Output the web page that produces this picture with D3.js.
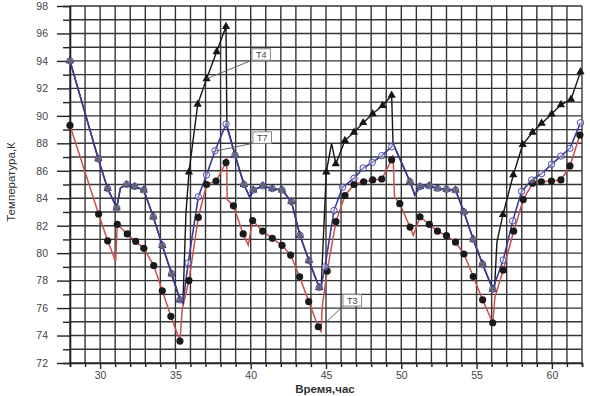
<!DOCTYPE html>
<html><head><meta charset="utf-8">
<script src="https://cdn.jsdelivr.net/npm/d3@7"></script>
<style>html,body{margin:0;padding:0;background:#fff;}svg{display:block;}</style>
</head><body><div id="chart"></div>
<script>
// [time (h), temperature (K), marker flag]
const t3Data = [[28,89.3,1],[29.9,82.85,1],[30.5,80.9,1],[31.03,79.4,0],[31.14,82.1,1],[31.8,81.4,1],[32.36,80.86,1],[32.9,80.35,1],[33.56,79.1,1],[34.13,77.26,1],[34.7,75.4,1],[35.3,73.6,1],[35.45,75.9,0],[35.9,78.0,1],[36.52,82.6,1],[37.07,85.0,1],[37.7,85.25,1],[38.36,86.6,1],[38.4,87.0,0],[38.44,83.9,0],[38.85,83.45,1],[39.5,81.4,1],[39.84,80.6,0],[40.13,82.37,1],[40.8,81.6,1],[41.43,81.08,1],[42.08,80.57,1],[42.65,79.86,1],[43.25,78.28,1],[43.85,76.47,1],[44.49,74.64,1],[44.67,74.3,0],[44.75,76.1,0],[45.08,78.7,1],[45.66,82.3,1],[46.26,84.2,1],[46.86,85.0,1],[47.5,85.2,1],[48.1,85.33,1],[48.7,85.4,1],[49.36,86.8,1],[49.45,87.15,0],[49.55,84.1,0],[49.9,83.6,1],[50.58,81.9,1],[50.8,81.3,0],[51.24,82.65,1],[51.86,82.1,1],[52.4,81.6,1],[53.0,81.27,1],[53.6,80.8,1],[54.16,79.94,1],[54.78,78.3,1],[55.4,76.6,1],[56.07,74.93,1],[56.22,76.8,0],[56.77,78.77,1],[57.46,81.6,1],[58.1,83.9,1],[58.72,85.1,1],[59.3,85.2,1],[59.97,85.25,1],[60.6,85.33,1],[61.2,86.35,1],[61.86,88.6,1]];

const t4Data = [[28,94,1],[29.88,86.86,1],[30.5,84.7,1],[31.1,83.3,1],[31.35,84.75,0],[31.76,85.0,1],[32.3,84.85,1],[32.9,84.6,1],[33.53,82.65,1],[34.13,80.55,1],[34.75,78.5,1],[35.3,76.6,1],[35.5,76.35,0],[35.7,82.9,0],[35.9,85.9,1],[36.48,90.84,1],[37.07,92.7,1],[37.74,94.67,1],[38.36,96.5,1],[38.42,89.3,0],[38.96,87.15,1],[39.55,85.0,1],[39.95,84.05,0],[40.17,84.6,1],[40.8,84.9,1],[41.43,84.7,1],[42.08,84.6,1],[42.7,83.75,1],[43.27,81.3,1],[43.87,79.45,1],[44.55,77.5,1],[44.68,77.5,0],[45.02,85.9,1],[45.37,88.0,0],[45.65,86.5,1],[46.26,88.2,1],[46.86,88.8,1],[47.47,89.5,1],[48.1,90.15,1],[48.76,90.75,1],[49.36,91.5,1],[49.45,88.0,0],[50.58,85.2,1],[50.9,84.23,0],[51.24,84.84,1],[51.86,84.9,1],[52.4,84.72,1],[53.0,84.65,1],[53.6,84.6,1],[54.16,83.0,1],[54.78,81.0,1],[55.4,79.2,1],[56.07,77.37,1],[56.2,77.6,0],[56.35,80.8,0],[56.75,82.8,1],[57.44,85.7,1],[58.06,87.9,1],[58.72,88.8,1],[59.32,89.45,1],[59.98,90.13,1],[60.6,90.8,1],[61.27,91.2,1],[61.9,93.2,1]];

const t7Data = [[28,94,1],[29.88,86.86,1],[30.5,84.7,1],[31.1,83.3,1],[31.35,84.75,0],[31.76,85.0,1],[32.3,84.85,1],[32.9,84.6,1],[33.53,82.65,1],[34.13,80.55,1],[34.75,78.5,1],[35.3,76.6,1],[35.5,76.35,0],[35.85,79.3,1],[36.52,84.1,1],[37.07,85.7,1],[37.63,87.46,1],[38.36,89.4,1],[38.96,87.15,1],[39.55,85.0,1],[39.95,84.05,0],[40.17,84.6,1],[40.8,84.9,1],[41.43,84.7,1],[42.08,84.6,1],[42.7,83.75,1],[43.27,81.3,1],[43.87,79.45,1],[44.55,77.5,1],[44.65,77.4,0],[44.93,79.0,1],[45.53,83.1,1],[46.1,84.8,1],[46.86,85.45,1],[47.47,86.2,1],[48.07,86.6,1],[48.7,87.1,1],[49.36,87.75,1],[49.45,88.0,0],[50.58,85.2,1],[50.9,84.23,0],[51.24,84.84,1],[51.86,84.9,1],[52.4,84.72,1],[53.0,84.65,1],[53.6,84.6,1],[54.16,83.0,1],[54.78,81.0,1],[55.4,79.2,1],[56.07,77.37,1],[56.77,79.5,1],[57.4,82.35,1],[57.99,84.5,1],[58.66,85.33,1],[59.32,85.8,1],[59.98,86.47,1],[60.6,87.07,1],[61.2,87.64,1],[61.9,89.5,1]];

const xTickLabels = [30, 35, 40, 45, 50, 55, 60];
const yTickLabels = [72, 74, 76, 78, 80, 82, 84, 86, 88, 90, 92, 94, 96, 98];
// label, anchor point (t, K), box bottom-left corner (t, K)
const labelNames = ["T4", "T7", "T3"];
const labelAnchors = [[37.07, 92.7], [37.5, 87.4], [45.04, 75.0]];
const labelBoxes = [[40.08, 94.05], [40.15, 88.0], [46.13, 76.15]];

const W = 590, H = 396;
const svg = d3.select("#chart").append("svg").attr("width", W).attr("height", H);
const x = d3.scaleLinear().domain([28, 62]).range([70, 582]);
const y = d3.scaleLinear().domain([72, 98]).range([363, 6]);
const FONT = "Liberation Sans, Arial, sans-serif";

const gridColor = "#353535";
const g = svg.append("g");
g.selectAll(".vg").data(d3.range(28, 63, 1)).enter().append("line")
  .attr("x1", d => x(d)).attr("x2", d => x(d)).attr("y1", y(98)).attr("y2", y(72))
  .attr("stroke", gridColor).attr("stroke-width", 1.4);
g.selectAll(".hg").data(d3.range(72, 99, 1)).enter().append("line")
  .attr("x1", x(28)).attr("x2", x(62)).attr("y1", d => y(d)).attr("y2", d => y(d))
  .attr("stroke", gridColor).attr("stroke-width", 1.4);

const xAxis = d3.axisBottom(x).tickValues(d3.range(28, 63, 1)).tickSize(4)
  .tickFormat(d => xTickLabels.includes(d) ? d : "");
const xg = svg.append("g").attr("transform", `translate(0,${y(72)})`).call(xAxis);
xg.select(".domain").attr("stroke", "#222").attr("stroke-width", 1.6);
xg.selectAll(".tick line").attr("stroke", "#222").attr("stroke-width", 1.4)
  .attr("y2", d => xTickLabels.includes(d) ? 6 : 4);
xg.selectAll(".tick text").attr("fill", "#444").attr("font-size", "10.5px")
  .attr("font-family", FONT).attr("dy", "0").attr("y", 16);

const yAxis = d3.axisLeft(y).tickValues(d3.range(72, 99, 1)).tickSize(7)
  .tickFormat(d => yTickLabels.includes(d) ? d : "");
const yg = svg.append("g").attr("transform", `translate(${x(28)},0)`).call(yAxis);
yg.select(".domain").attr("stroke", "#222").attr("stroke-width", 1.6);
yg.selectAll(".tick line").attr("stroke", "#222").attr("stroke-width", 1.4)
  .attr("x2", d => yTickLabels.includes(d) ? -13 : -7);
yg.selectAll(".tick text").attr("fill", "#444").attr("font-size", "10.5px")
  .attr("font-family", FONT).attr("x", -22);

svg.append("text").attr("x", 325).attr("y", 393).attr("text-anchor", "middle")
  .attr("font-family", FONT).attr("font-size", "11.5px")
  .attr("font-weight", "bold").attr("fill", "#333").text("Время,час");
svg.append("text").attr("transform", "translate(15,182) rotate(-90)").attr("text-anchor", "middle")
  .attr("font-family", FONT).attr("font-size", "11.5px")
  .attr("fill", "#333").text("Температура,К");

const line = d3.line().x(d => x(d[0])).y(d => y(d[1]));

svg.append("path").datum(t3Data).attr("d", line).attr("fill", "none")
  .attr("stroke", "#c9504f").attr("stroke-width", 1.5);
svg.append("path").datum(t4Data).attr("d", line).attr("fill", "none")
  .attr("stroke", "#151515").attr("stroke-width", 1.4);
svg.append("path").datum(t7Data).attr("d", line).attr("fill", "none")
  .attr("stroke", "#3b3b9a").attr("stroke-width", 1.6);

svg.append("g").selectAll("circle").data(t3Data.filter(d => d[2])).enter().append("circle")
  .attr("cx", d => x(d[0])).attr("cy", d => y(d[1])).attr("r", 3.6).attr("fill", "#1a1a1a");
const tri = d3.symbol().type(d3.symbolTriangle).size(30);
svg.append("g").selectAll("path").data(t4Data.filter(d => d[2])).enter().append("path")
  .attr("d", tri).attr("transform", d => `translate(${x(d[0])},${y(d[1])})`).attr("fill", "#151515");
svg.append("g").selectAll("circle").data(t7Data.filter(d => d[2])).enter().append("circle")
  .attr("cx", d => x(d[0])).attr("cy", d => y(d[1])).attr("r", 3.2)
  .attr("fill", "rgba(255,255,255,0.35)").attr("stroke", "#4a4aa8").attr("stroke-width", 1);

// callout labels
labelNames.forEach((name, i) => {
  const bx = x(labelBoxes[i][0]), by = y(labelBoxes[i][1]);
  svg.append("line").attr("x1", x(labelAnchors[i][0])).attr("y1", y(labelAnchors[i][1]))
    .attr("x2", bx).attr("y2", by).attr("stroke", "#666").attr("stroke-width", 1);
  const t = svg.append("text").attr("x", bx + 4).attr("y", by - 2.5)
    .attr("font-family", FONT).attr("font-size", "9px")
    .attr("fill", "#444").text(name);
  const bb = t.node().getBBox();
  svg.insert("rect", function() { return t.node(); })
    .attr("x", bx).attr("y", bb.y - 1).attr("width", bb.width + 8).attr("height", by - bb.y + 1)
    .attr("fill", "#fff").attr("stroke", "#888").attr("stroke-width", 1);
});
</script></body></html>
